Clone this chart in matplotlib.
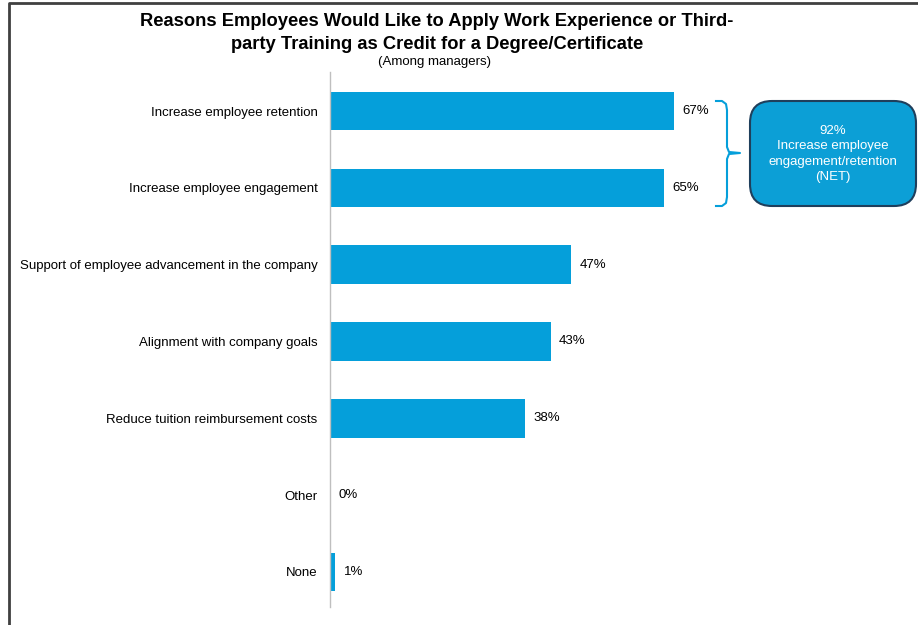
import matplotlib
matplotlib.use("Agg")
import matplotlib.pyplot as plt
from matplotlib.patches import FancyBboxPatch
from matplotlib.lines import Line2D

plt.rcParams['font.family'] = ['Liberation Sans', 'DejaVu Sans']

categories = ["Increase employee retention", "Increase employee engagement",
              "Support of employee advancement in the company", "Alignment with company goals",
              "Reduce tuition reimbursement costs", "Other", "None"]
values = [67, 65, 47, 43, 38, 0, 1]
value_labels = ["67%", "65%", "47%", "43%", "38%", "0%", "1%"]
net_label = "92%\nIncrease employee\nengagement/retention\n(NET)"
title = "Reasons Employees Would Like to Apply Work Experience or Third-\nparty Training as Credit for a Degree/Certificate"
subtitle = "(Among managers)"

W, H = 918, 625
fig = plt.figure(figsize=(W/100, H/100), dpi=100)

def fx(x): return x / W
def fy(y): return 1 - y / H

bar_color = "#059FDA"
ax = fig.add_axes([fx(330), fy(607), fx(843.4) - fx(330), fy(72) - fy(607)])
ypos = list(range(len(categories)))
ax.barh(ypos, values, height=0.5, color=bar_color)
ax.set_xlim(0, 100)
ax.set_ylim(6.456, -0.508)
ax.set_yticks(ypos)
ax.set_yticklabels(categories, fontsize=9.5)
ax.tick_params(axis='y', length=0, pad=9)
ax.set_xticks([])
for s in ['top', 'right', 'bottom']:
    ax.spines[s].set_visible(False)
ax.spines['left'].set_color('#BFBFBF')
ax.spines['left'].set_linewidth(1)
for y, v, lab in zip(ypos, values, value_labels):
    ax.annotate(lab, (v, y), xytext=(6, 0), textcoords='offset points',
                va='center', ha='left', fontsize=9.5, color='#000000')

# title
fig.text(fx(437), fy(33), title, ha='center', va='center', fontsize=13.25,
         fontweight='bold', linespacing=1.48)
fig.text(fx(435), fy(62), subtitle, ha='center', va='center', fontsize=9.5)

# bracket
bx = [716, 722, 726, 727, 727, 729, 740, 729, 727, 727, 726, 722, 716]
by = [101, 101, 104, 110, 147, 152, 153, 154, 159, 197, 203, 206, 206]
fig.add_artist(Line2D([fx(x) for x in bx], [fy(y) for y in by], color=bar_color,
                      linewidth=1.5, transform=fig.transFigure))

# NET box
box = FancyBboxPatch((fx(750), fy(206)), fx(916) - fx(750), fy(101) - fy(206),
                     boxstyle="round,pad=0,rounding_size=0.024",
                     facecolor="#0C9FD6", edgecolor="#1F3F5C", linewidth=1.5,
                     transform=fig.transFigure, mutation_aspect=W/H)
fig.add_artist(box)
fig.text(fx(833), fy(154), net_label, ha='center', va='center', fontsize=9.5,
         color='white', linespacing=1.36)

# outer frame
fig.add_artist(Line2D([fx(9), fx(9), fx(918)], [fy(625), fy(3), fy(3)],
                      color='#404040', linewidth=2, transform=fig.transFigure))

fig.savefig("out.png", dpi=100)
